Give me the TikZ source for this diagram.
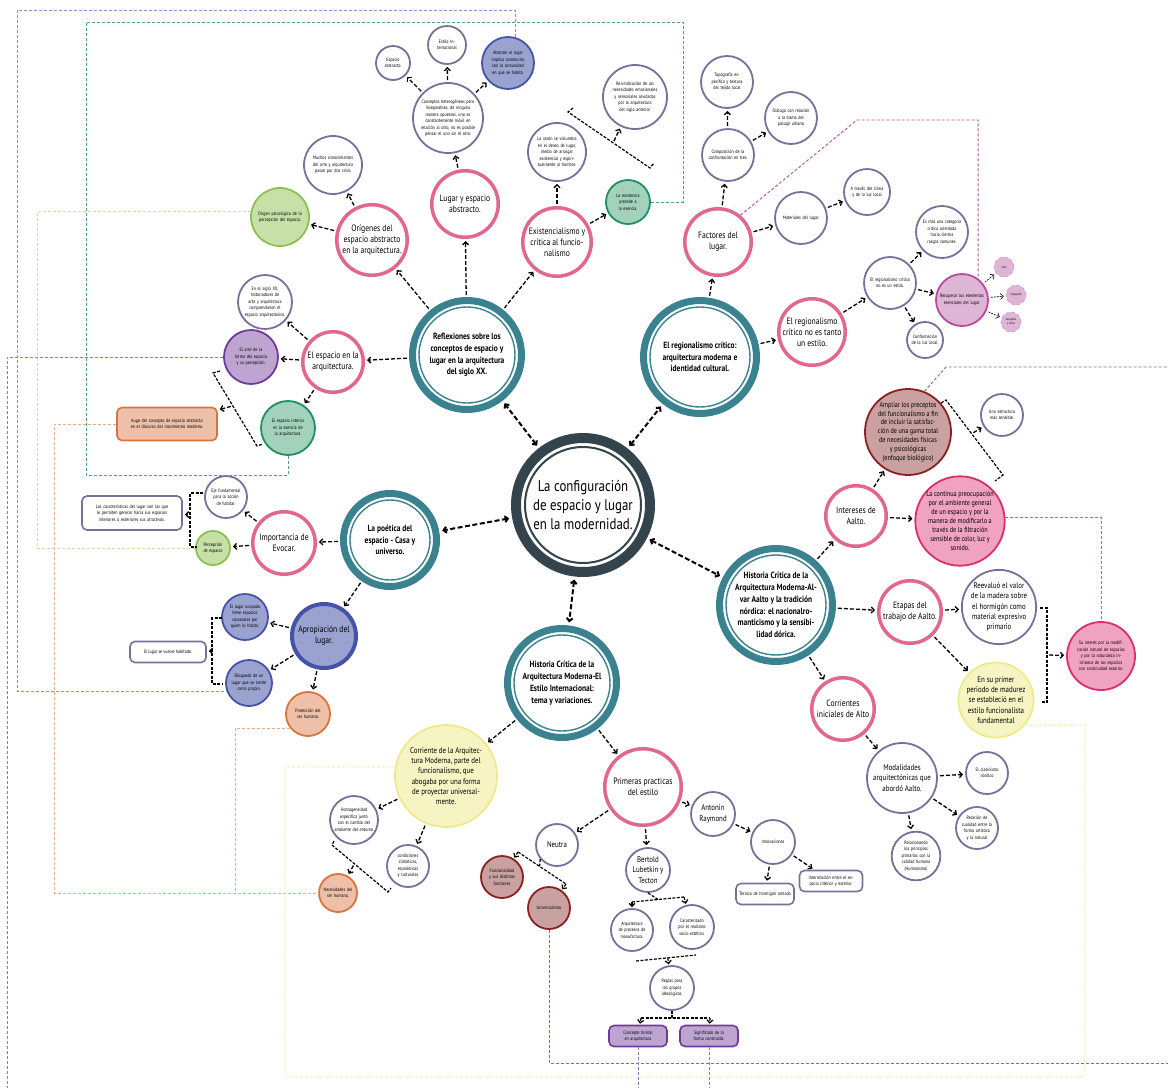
\documentclass[tikz,border=0pt]{standalone}
\usepackage{fontspec}
\setmainfont[FakeStretch=0.83]{PT Sans}
\usetikzlibrary{arrows.meta, positioning, calc}

\definecolor{mainc}{HTML}{33444C}
\definecolor{tealc}{HTML}{3B8290}
\definecolor{pinkc}{HTML}{E1678E}
\definecolor{greyc}{HTML}{7A6F99}
\definecolor{greenb}{HTML}{8CC152}  \definecolor{greenf}{HTML}{C7E0A8}
\definecolor{mintb}{HTML}{1F8F60}   \definecolor{mintf}{HTML}{A3D2BC}
\definecolor{blueb}{HTML}{4552A8}   \definecolor{bluef}{HTML}{9AA3D0}
\definecolor{purpb}{HTML}{6E3B98}   \definecolor{purpf}{HTML}{BEA5D1}
\definecolor{orangeb}{HTML}{D9743C} \definecolor{orangef}{HTML}{EEC0A9}
\definecolor{redb}{HTML}{8C1F1F}    \definecolor{redf}{HTML}{C9A1A1}
\definecolor{rosab}{HTML}{DB2D6F}   \definecolor{rosaf}{HTML}{EFA3C0}
\definecolor{yellowb}{HTML}{EFE98C} \definecolor{yellowf}{HTML}{F7F4C4}
\definecolor{magb}{HTML}{B74AA0}    \definecolor{magf}{HTML}{DFB5D6}

\newcommand{\szmain}{\fontsize{15.5}{19}\selectfont}
\newcommand{\szteal}{\bfseries\fontsize{9}{11.8}\selectfont}
\newcommand{\szpink}{\fontsize{9.2}{11}\selectfont}
\newcommand{\szmid}{\fontsize{8.3}{10.3}\selectfont}
\newcommand{\szsmall}{\fontsize{7.4}{8.9}\selectfont}
\newcommand{\sztiny}{\fontsize{4.9}{6.5}\selectfont}

\tikzset{
  bubble/.style={circle, align=center, inner sep=0pt},
  mainnode/.style={bubble, draw=mainc, line width=10pt, fill=white, minimum size=134, font=\szmain},
  tealnode/.style={bubble, draw=tealc, line width=7pt, fill=white, minimum size=#1, font=\szteal},
  pinknode/.style={bubble, draw=pinkc, line width=3.5pt, fill=white, minimum size=#1, font=\szpink},
  subnode/.style={bubble, draw=greyc, line width=1.8pt, fill=white, minimum size=#1, font=\sztiny},
  filled/.style 2 args={bubble, draw=#1, fill=#2, line width=1.8pt, font=\sztiny},
  boxnode/.style={rectangle, rounded corners=5pt, draw=greyc, line width=1.6pt, fill=white,
                  align=center, inner sep=1pt, font=\sztiny},
  link/.style={->, dash pattern=on 4pt off 2pt, line width=1.3pt, shorten >=2pt, shorten <=2pt},
  biglink/.style={<->, dash pattern=on 5pt off 2.5pt, line width=2pt, shorten >=3pt, shorten <=3pt},
  tick/.style={->, dash pattern=on 3pt off 1.5pt, line width=1.2pt, shorten >=1pt},
  bracket/.style={dash pattern=on 3pt off 1.5pt, line width=1.2pt},
  route/.style={dash pattern=on 3pt off 2pt, line width=0.9pt, draw=#1},
}

\begin{document}
\begin{tikzpicture}[x=1pt, y=-1pt, >={Straight Barb[length=3pt,width=6pt]}]
  \useasboundingbox (0,0) rectangle (1168,1088);

  % Central node and topics
  \node[mainnode] (main) at (583,505) {La configuración\\de espacio y lugar\\en la modernidad.};
  \node[tealnode=109] (refl) at (467,355) {Reflexiones sobre los\\conceptos de espacio y\\lugar en la arquitectura\\del siglo XX.};
  \node[tealnode=113] (regc) at (700,357) {El regionalismo crítico:\\arquitectura moderna e\\identidad cultural.};
  \node[tealnode=93] (poet) at (390,540) {La poética del\\espacio - Casa y\\universo.};
  \node[tealnode=109] (hei) at (562,683) {Historia Crítica de la\\Arquitectura Moderna-El\\Estilo Internacional:\\tema y variaciones.};
  \node[tealnode=113] (aalto) at (776,605) {Historia Crítica de la\\Arquitectura Moderna-Al-\\var Aalto y la tradición\\nórdica: el nacionalro-\\manticismo y la sensibi-\\lidad dórica.};

  % Inner rings
  \draw[mainc, line width=2pt] (main.center) circle (58pt);
  \foreach \n/\r in {refl/48, regc/50, poet/40, hei/48, aalto/50}
    \draw[tealc, line width=1.4pt] (\n.center) circle (\r pt);

  % Reflexiones branch
  \node[pinknode=70.5] (orig) at (372,240) {Orígenes del\\espacio abstracto\\en la arquitectura.};
  \node[pinknode=66.5] (lugar) at (465,204) {Lugar y espacio\\abstracto.};
  \node[pinknode=68.5] (exis) at (557,242) {Existencialismo y\\crítica al funcio-\\nalismo};
  \node[pinknode=60.5] (esparq) at (333,362) {El espacio en la\\arquitectura.};
  \node[subnode=58, text width=44pt] (muchos) at (333,165) {Muchos conocimientos del arte y arquitectura pasan por dos crisis};
  \node[filled={greenb}{greenf}, minimum size=58, text width=44pt] (psico) at (280,217) {Origen psicológico de la percepción del espacio.};
  \node[subnode=70, text width=56pt] (concep) at (448,118) {Conceptos heterogéneos pero inseparables, de ninguna manera opuestos, uno es constantemente móvil en relación al otro, no es posible pensar el uno sin el otro.};
  \node[subnode=34, text width=26pt] (espab) at (393,63) {Espacio abstracto.};
  \node[subnode=38, text width=30pt] (estint) at (447,45) {Estilo Internacional};
  \node[filled={blueb}{bluef}, minimum size=52, text width=42pt] (abstr) at (508,63) {Abstraer el lugar implica construirlo con la comunidad en que se habita.};
  \node[subnode=58, text width=46pt] (razon) at (557,152) {La razón se vislumbra en el deseo de lugar, medio de arraigar existencial y espiritualmente al hombre.};
  \node[filled={mintb}{mintf}, minimum size=44, text width=36pt] (existe) at (628,202) {La existencia precede a la esencia.};
  \node[subnode=64, text width=50pt] (reiv) at (635,97) {Reivindicación de las necesidades emocionales y sensoriales olvidadas por la arquitectura del siglo anterior.};
  \node[subnode=54, text width=42pt] (siglo) at (265,302) {En el siglo XX, historiadores de arte y arquitectura comprendieron el espacio arquitectónico.};
  \node[filled={purpb}{purpf}, minimum size=54, text width=42pt] (purp) at (251,357) {El arte de la forma del espacio y su percepción.};
  \node[filled={mintb}{mintf}, minimum size=54, text width=42pt] (tealf) at (288,428) {El espacio interior es la esencia de la arquitectura.};
  \node[boxnode, draw=orangeb, fill=orangef, minimum width=100, minimum height=33, text width=92pt] (auge) at (167,424) {Auge del concepto de espacio abstracto en el discurso del movimiento moderno.};

  % Regionalismo branch
  \node[pinknode=66.5] (fact) at (718,242) {Factores del\\lugar.};
  \node[pinknode=66.5] (rcne) at (812,332) {El regionalismo\\crítico no es tanto\\un estilo.};
  \node[subnode=52, text width=40pt] (comp) at (728,155) {Composición de la confrontación en tres.};
  \node[subnode=52, text width=40pt] (topo) at (727,82) {Topografía específica y textura del tejido local};
  \node[subnode=52, text width=42pt] (dial) at (791,118) {Diálogo con relación a la trama del paisaje urbano};
  \node[subnode=52, text width=40pt] (mater) at (801,218) {Materiales del lugar.};
  \node[subnode=46, text width=36pt] (atrav) at (867,192) {A través del clima y de la luz local};
  \node[subnode=52, text width=42pt] (rcest) at (890,283) {El regionalismo crítico no es un estilo.};
  \node[subnode=52, text width=42pt] (categ) at (942,232) {Es más una categoría crítica orientada hacia ciertos rasgos comunes.};
  \node[subnode=36, text width=30pt] (conf) at (925,340) {Conformación de la luz local.};
  \node[filled={magb}{magf}, minimum size=52, text width=44pt] (recup) at (962,300) {Recuperar los elementos esenciales del lugar.};
  \node[bubble, draw=magb!60, dashed, fill=magf, line width=0.6pt, minimum size=20, font=\fontsize{3}{3.6}\selectfont] (sitio) at (1004,267) {Sitio};
  \node[bubble, draw=magb!60, dashed, fill=magf, line width=0.6pt, minimum size=20, font=\fontsize{3}{3.6}\selectfont] (topog) at (1016,295) {Topografía};
  \node[bubble, draw=magb!60, dashed, fill=magf, line width=0.6pt, minimum size=20, text width=17pt, font=\fontsize{3}{3.6}\selectfont] (geog) at (1011,322) {Geografía y clima};

  % Poetica branch
  \node[pinknode=62.5] (impor) at (284,543) {Importancia de\\Evocar.};
  \node[bubble, draw=blueb, fill=bluef, line width=4pt, minimum size=64, font=\szpink] (apro) at (324,636) {Apropiación del\\lugar.};
  \node[subnode=42, text width=34pt] (eje) at (226,497) {Eje fundamental para la acción de habitar.};
  \node[filled={greenb}{greenf}, minimum size=34, text width=28pt] (percep) at (213,548) {Percepción de espacio};
  \node[boxnode, minimum width=100, minimum height=34, text width=92pt] (carac) at (132,513) {Las características del lugar son las que le permiten generar hacia sus espacios interiores o exteriores sus atractivos.};
  \node[filled={blueb}{bluef}, minimum size=46, text width=38pt] (ocup) at (245,617) {El lugar ocupado tiene espacios corporales por quien lo habita.};
  \node[filled={blueb}{bluef}, minimum size=46, text width=38pt] (busq) at (249,683) {Búsqueda de un lugar que se siente como propio.};
  \node[boxnode, minimum width=76, minimum height=21] (elugar) at (168,652) {El lugar se vuelve habitado.};
  \node[filled={orangeb}{orangef}, minimum size=44, text width=36pt] (prot) at (308,714) {Protección del ser humano.};

  % Estilo Internacional branch
  \node[filled={yellowb}{yellowf}, minimum size=102, font=\szmid] (corri) at (446,776) {Corriente de la Arquitec-\\tura Moderna, parte del\\funcionalismo, que\\abogaba por una forma\\de proyectar universal-\\mente.};
  \node[subnode=48, text width=40pt] (homog) at (354,820) {Homogeneidad específica junto con el cambio del ambiente del entorno};
  \node[subnode=42, text width=34pt] (cond) at (408,866) {condiciones climáticas, económicas y culturales};
  \node[filled={orangeb}{orangef}, minimum size=38, text width=32pt] (necs) at (338,893) {Necesidades del ser humano.};
  \node[pinknode=76.5] (prim) at (643,787) {Primeras practicas\\del estilo};
  \node[subnode=42, font=\szmid] (neutra) at (557,845) {Neutra};
  \node[filled={redb}{redf}, minimum size=42, text width=34pt] (func) at (502,877) {Funcionalidad y sus distintas funciones};
  \node[filled={redb}{redf}, minimum size=42, text width=34pt] (univ) at (549,908) {Universalismo};
  \node[subnode=44, font=\szmid] (antonin) at (713,814) {Antonin\\Raymond};
  \node[subnode=44, text width=36pt] (innov) at (773,842) {Innovaciones};
  \node[boxnode, minimum width=58, minimum height=21, text width=52pt] (tecn) at (765,894) {Técnica de hormigón armado};
  \node[boxnode, minimum width=63, minimum height=21, text width=58pt] (interr) at (831,881) {Interrelación entre el espacio interior y exterior.};
  \node[subnode=44, font=\szmid] (bertold) at (648,870) {Bertold\\Lubetkin y\\Tecton};
  \node[subnode=42, text width=34pt] (arqp) at (632,930) {Arquitectura de procesos de manufactura.};
  \node[subnode=44, text width=36pt] (caract) at (692,927) {Caracterizado por el realismo socio estético.};
  \node[subnode=44, text width=34pt] (reglas) at (672,988) {Reglas para los grupos ideológicos.};
  \node[boxnode, draw=purpb, fill=purpf, minimum width=58, minimum height=21, text width=52pt] (cform) at (638,1036) {Concepto formal en arquitectura};
  \node[boxnode, draw=purpb, fill=purpf, minimum width=58, minimum height=21, text width=52pt] (signif) at (709,1036) {Significado de la forma construida.};

  % Aalto branch
  \node[pinknode=60.5] (inter) at (856,516) {Intereses de\\Aalto.};
  \node[pinknode=62.5] (etapas) at (910,612) {Etapas del\\trabajo de Aalto.};
  \node[pinknode=62.5] (corr) at (843,709) {Corrientes\\iniciales de Alto};
  \node[filled={redb}{redf}, minimum size=86, font=\szsmall] (ampl) at (908,432) {Ampliar los preceptos\\del funcionalismo a fin\\de incluir la satisfac-\\ción de una gama total\\de necesidades físicas\\y psicológicas\\(enfoque biológico)};
  \node[filled={rosab}{rosaf}, minimum size=86, font=\szsmall] (cont) at (960,521) {La continua preocupación\\por el ambiente general\\de un espacio y por la\\manera de modificarlo a\\través de la filtración\\sensible de color, luz y\\sonido.};
  \node[subnode=42, text width=34pt] (estruct) at (1002,415) {Una estructura más sensible.};
  \node[subnode=70, font=\szmid] (reev) at (999,607) {Reevaluó el valor\\de la madera sobre\\el hormigón como\\material expresivo\\primario};
  \node[filled={yellowb}{yellowf}, minimum size=74, font=\szmid] (prim2) at (996,700) {En su primer\\periodo de madurez\\se estableció en el\\estilo funcionalista\\fundamental};
  \node[filled={rosab}{rosaf}, minimum size=68, text width=56pt] (suint) at (1101,656) {Su interés por la modificación natural de espacios y por la naturaleza intrínseca de los espacios con continuidad exterior.};
  \node[subnode=70, font=\szmid] (modal) at (902,778) {Modalidades\\arquitectónicas que\\abordó Aalto.};
  \node[subnode=42, text width=34pt] (clas) at (987,773) {El clasicismo nórdico};
  \node[subnode=42, text width=34pt] (relac) at (977,828) {Relación de cualidad entre la forma artística y la natural};
  \node[subnode=46, text width=38pt] (relnd) at (916,856) {Relacionando los principios primarios con la calidad humana (Humanismo)};

  % Links from the centre
  \foreach \t in {refl, regc, poet, hei, aalto}
    \draw[biglink] (main) -- (\t);

  % Links of each branch
  \foreach \a/\b in {refl/orig, refl/lugar, refl/exis, refl/esparq, orig/muchos, orig/psico,
                     lugar/concep, concep/espab, concep/estint, concep/abstr, exis/razon, exis/existe,
                     esparq/siglo, esparq/purp, esparq/tealf,
                     regc/fact, regc/rcne, fact/comp, fact/mater, comp/topo, comp/dial, mater/atrav,
                     rcne/rcest, rcest/categ, rcest/recup, rcest/conf,
                     poet/impor, poet/apro, impor/eje, impor/percep, apro/ocup, apro/busq, apro/prot,
                     hei/corri, hei/prim, corri/homog, corri/cond, prim/neutra, prim/bertold, prim/antonin,
                     antonin/innov, innov/tecn, innov/interr,
                     aalto/inter, aalto/etapas, aalto/corr, inter/ampl, inter/cont, etapas/reev, etapas/prim2,
                     corr/modal, modal/clas, modal/relac, modal/relnd}
    \draw[link] (\a) -- (\b);
  \foreach \b in {sitio, topog, geog}
    \draw[->, dash pattern=on 2pt off 1pt, line width=0.6pt, shorten >=2pt, shorten <=2pt] (recup) -- (\b);

  % Brackets
  \coordinate (b1a) at (568,112); \coordinate (b1b) at (650,168);
  \draw[bracket] ($(b1a)+(5,-4)$) -- (b1a) -- (b1b) -- ($(b1b)+(4,-5)$);
  \draw[link] ($(b1a)!0.55!(b1b)$) -- (reiv);

  \coordinate (b2a) at (213,373); \coordinate (b2b) at (257,446);
  \draw[bracket] ($(b2a)+(7,-2)$) -- (b2a) -- (b2b) -- ($(b2b)+(6,-2)$);
  \draw[link] ($(b2a)!0.45!(b2b)$) -- (auge);

  \draw[bracket] (203,493) -- (190,493) coordinate (b3a) -- (190,547) coordinate (b3b) -- (197,547);
  \draw[link] ($(b3a)!0.4!(b3b)$) -- (carac);

  \draw[bracket] (222,618) -- (212,618) coordinate (b4a) -- (212,684) coordinate (b4b) -- (222,684);
  \draw[link] ($(b4a)!0.5!(b4b)$) -- (elugar);

  \coordinate (b5a) at (332,845); \coordinate (b5b) at (388,892);
  \draw[bracket] ($(b5a)+(2,-4)$) -- (b5a) -- (b5b) -- ($(b5b)+(3,-4)$);
  \draw[link] ($(b5a)!0.4!(b5b)$) -- (necs);

  \coordinate (b6a) at (518,852); \coordinate (b6b) at (566,884);
  \draw[bracket] (b6a) -- (b6b);
  \draw[bracket] (neutra.220) -- ($(b6a)!0.45!(b6b)$);
  \draw[tick] (b6a) -- (func);
  \draw[tick] (b6b) -- (univ);

  \coordinate (b7a) at (632,902); \coordinate (b7b) at (684,897);
  \draw[bracket] (b7a) -- (b7b);
  \draw[bracket] (bertold.south) -- ($(b7a)!0.5!(b7b)$);
  \draw[tick] (b7a) -- (arqp);
  \draw[tick] (b7b) -- (caract);

  \coordinate (b8a) at (636,961); \coordinate (b8b) at (696,955);
  \draw[bracket] (b8a) -- (b8b);
  \draw[tick] ($(b8a)!0.53!(b8b)$) -- (reglas);

  \coordinate (b9a) at (641,1018); \coordinate (b9b) at (710,1018);
  \draw[bracket] (reglas.south) -- (672,1018);
  \draw[bracket] (b9a) -- (b9b);
  \draw[tick] (b9a) -- (cform);
  \draw[tick] (b9b) -- (signif);

  \coordinate (b10a) at (946,400); \coordinate (b10b) at (1003,475);
  \draw[bracket] ($(b10a)+(-5,3)$) -- (b10a) -- (b10b) -- ($(b10b)+(-8,6)$);
  \draw[link] ($(b10a)!0.45!(b10b)$) -- (estruct);

  \draw[bracket] (1040,608) -- (1047,608) coordinate (b11a) -- (1047,702) coordinate (b11b) -- (1040,702);
  \draw[link] ($(b11a)!0.5!(b11b)$) -- (suint);

  % Coloured routes between related nodes
  \draw[route=bluef!80!blueb] (abstr.75) |- (17,10) |- (busq.200);
  \draw[route=mintb!80] (existe.east) -| (683,22) -| (86,475) -| (tealf.south);
  \draw[route=greenf] (psico.170) -| (37,548) -- (percep.west);
  \draw[route=purpb!70] (purp.west) -| (7,1088);
  \draw[route=orangeb!60] (auge.west) -| (54,893) -- (necs.west);
  \draw[route=orangeb!60] (prot.220) -| (235,893);
  \draw[route=yellowb] (corri.170) -| (285,1077) -| (1085,725) -- (prim2.-41);
  \draw[route=redb!70] (univ.south) |- (1168,1063);
  \draw[route=redb!70] (ampl.68) -- (946,367) -- (1168,367);
  \draw[route=magb] (fact.50) -- (857,120) -| (recup.53);
  \draw[route=rosab!80] (cont.5) -| (suint.north);
  \draw[route=purpb!70] (cform.south) -- (cform.south |- 0,1088);
  \draw[route=purpb!70] (signif.south) -- (signif.south |- 0,1088);
\end{tikzpicture}
\end{document}
